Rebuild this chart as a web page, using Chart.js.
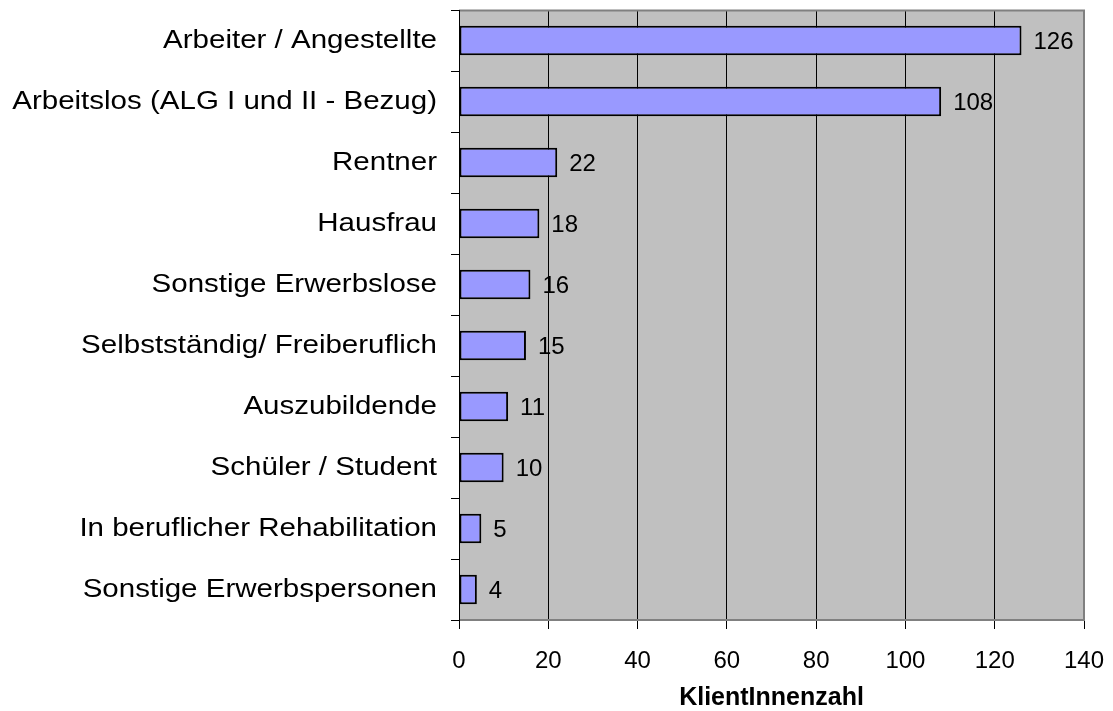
<!DOCTYPE html>
<html><head><meta charset="utf-8">
<script src="https://cdn.jsdelivr.net/npm/chart.js@4"></script>
<style>html,body{margin:0;padding:0;background:#fff}#wrap{width:1113px;height:711px}</style>
</head><body><div id="wrap"><canvas id="c" width="1113" height="711"></canvas></div>
<script>
const categories = ["Arbeiter / Angestellte","Arbeitslos (ALG I und II - Bezug)","Rentner","Hausfrau","Sonstige Erwerbslose","Selbstständig/ Freiberuflich","Auszubildende","Schüler / Student","In beruflicher Rehabilitation","Sonstige Erwerbspersonen"];
const values = [126,108,22,18,16,15,11,10,5,4];
const xTicks = [0,20,40,60,80,100,120,140];
const xTitle = "KlientInnenzahl";
const FONT = "'Liberation Sans', Arial, sans-serif";
const LABEL_STRETCH = 1.135;

const plotBg = {
  id:'plotBg',
  beforeDraw(chart){
    const {ctx, chartArea:a} = chart;
    ctx.save(); ctx.fillStyle='#c0c0c0';
    ctx.fillRect(a.left,a.top,a.right-a.left,a.bottom-a.top); ctx.restore();
  },
  afterDatasetsDraw(chart){
    const {ctx, chartArea:a} = chart;
    ctx.save();
    ctx.strokeStyle='#808080'; ctx.lineWidth=2;
    ctx.beginPath();
    ctx.moveTo(a.left,a.top+0.5); ctx.lineTo(a.right,a.top+0.5);
    ctx.lineTo(a.right,a.bottom); ctx.lineTo(a.left,a.bottom);
    ctx.stroke();
    ctx.strokeStyle='#000'; ctx.lineWidth=1;
    ctx.beginPath(); ctx.moveTo(a.left+0.5,a.top); ctx.lineTo(a.left+0.5,a.bottom+1); ctx.stroke();
    const meta = chart.getDatasetMeta(0);
    ctx.fillStyle='#000'; ctx.font='24px '+FONT; ctx.textBaseline='middle'; ctx.textAlign='left';
    meta.data.forEach((el,i)=>{ ctx.fillText(String(chart.data.datasets[0].data[i]), el.x+12, el.y+2); });
    ctx.restore();
    // category labels (y ticks, z=1) are drawn next: stretch them horizontally around their right edge
    const ys = chart.scales.y;
    const anchor = ys.right - ys.options.grid.tickLength - ys.options.ticks.padding;
    ctx.save();
    ctx.translate(anchor,0); ctx.scale(LABEL_STRETCH,1); ctx.translate(-anchor,0);
  },
  afterDraw(chart){
    const ctx = chart.ctx;
    ctx.restore();
    const ys = chart.scales.y, n = categories.length;
    ctx.save(); ctx.strokeStyle='#000'; ctx.lineWidth=1;
    ctx.beginPath();
    for(let i=0;i<=n;i++){
      const p = Math.round(ys.top + i*(ys.bottom-ys.top)/n)+0.5;
      ctx.moveTo(ys.right-8,p); ctx.lineTo(ys.right,p);
    }
    ctx.stroke(); ctx.restore();
  }
};

new Chart(document.getElementById('c'),{
  type:'bar',
  data:{labels:categories,datasets:[{data:values,backgroundColor:'#9999ff',borderColor:'#000',borderWidth:2,borderSkipped:false,categoryPercentage:1,barPercentage:0.48}]},
  options:{
    indexAxis:'y', responsive:false, animation:false,
    layout:{padding:{top:10,right:29,left:0,bottom:0}},
    plugins:{legend:{display:false},tooltip:{enabled:false}},
    scales:{
      x:{min:0,max:140,
        afterBuildTicks(s){ s.ticks = xTicks.map(v=>({value:v})); },
        afterFit(s){ s.height = 91; s.paddingLeft = 0; s.paddingRight = 0; },
        grid:{color:'#000',lineWidth:1,tickLength:9,tickColor:'#000',drawOnChartArea:true},
        border:{display:false},
        ticks:{color:'#000',font:{family:FONT,size:24},padding:18,maxRotation:0},
        title:{display:true,text:xTitle,color:'#000',font:{family:FONT,size:25,weight:'bold',lineHeight:1},padding:{top:4,bottom:0}}
      },
      y:{
        afterFit(s){ s.width = 459; s.paddingTop = 0; s.paddingBottom = 0; },
        grid:{drawOnChartArea:false,tickLength:8,tickColor:'rgba(0,0,0,0)',offset:true},
        border:{display:false},
        ticks:{z:1,color:'#000',font:{family:FONT,size:26},padding:14,autoSkip:false}
      }
    }
  },
  plugins:[plotBg]
});
</script></body></html>
